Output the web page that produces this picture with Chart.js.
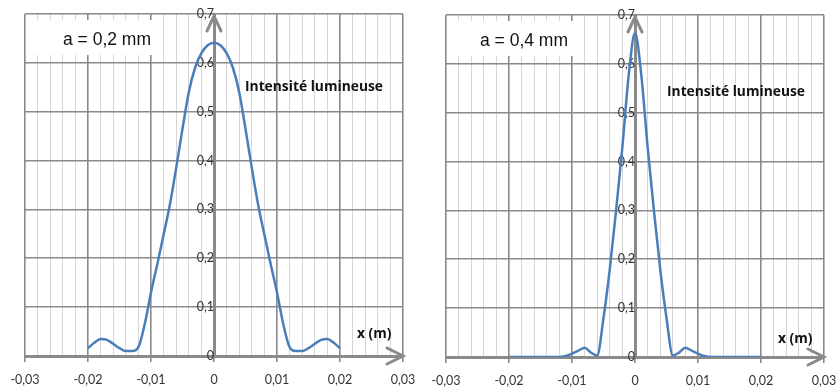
<!DOCTYPE html>
<html lang="fr">
<head>
<meta charset="utf-8">
<script src="https://cdn.jsdelivr.net/npm/chart.js@4.4.1/dist/chart.umd.min.js"></script>
<style>
  html, body { margin: 0; padding: 0; background: #fff; }
  #wrap { position: relative; width: 836px; height: 387px; }
  .panel { position: absolute; top: 0; width: 418px; height: 387px; }
</style>
</head>
<body>
<div id="wrap">
  <div class="panel" style="left:0"><canvas id="chartA" width="418" height="387"></canvas></div>
  <div class="panel" style="left:418px"><canvas id="chartB" width="418" height="387"></canvas></div>
</div>
<script>
// Abscisses (m), pas de 1 mm
const positionsX = [
  -0.020, -0.019, -0.018, -0.017, -0.016, -0.015, -0.014, -0.013, -0.012, -0.011,
  -0.010, -0.009, -0.008, -0.007, -0.006, -0.005, -0.004, -0.003, -0.002, -0.001,
  0,
  0.001, 0.002, 0.003, 0.004, 0.005, 0.006, 0.007, 0.008, 0.009, 0.010,
  0.011, 0.012, 0.013, 0.014, 0.015, 0.016, 0.017, 0.018, 0.019, 0.020
];

// Intensité lumineuse, fente a = 0,2 mm
const intensiteA02 = [
  0.016, 0.027, 0.035, 0.033, 0.025, 0.016, 0.010, 0.010, 0.018, 0.065,
  0.130, 0.188, 0.248, 0.310, 0.385, 0.465, 0.540, 0.590, 0.620, 0.636,
  0.641,
  0.636, 0.620, 0.590, 0.540, 0.465, 0.385, 0.310, 0.248, 0.188, 0.130,
  0.065, 0.018, 0.010, 0.010, 0.016, 0.025, 0.033, 0.035, 0.027, 0.016
];

// Intensité lumineuse, fente a = 0,4 mm
const intensiteA04 = [
  0, 0, 0, 0, 0, 0, 0, 0, 0, 0.002,
  0.007, 0.013, 0.019, 0.009, 0.003, 0.080, 0.180, 0.300, 0.430, 0.577,
  0.663,
  0.577, 0.430, 0.300, 0.180, 0.080, 0.003, 0.009, 0.019, 0.013, 0.007,
  0.002, 0, 0, 0, 0, 0, 0, 0, 0, 0
];

// Graduations principales
const graduationsX = [-0.03, -0.02, -0.01, 0, 0.01, 0.02, 0.03];
const graduationsY = [0, 0.1, 0.2, 0.3, 0.4, 0.5, 0.6, 0.7];

const GRIS_FORT = '#8a8a8a';
const GRIS_CLAIR = '#d6d6d6';
const BLEU = '#4a7ebb';

function estMajeur(v) {
  return graduationsX.some(g => Math.abs(g - v) < 1e-7);
}

function virgule(v, dec) {
  if (Math.abs(v) < 1e-9) return '0';
  return v.toFixed(dec).replace('.', ',');
}

// Cadres de texte, flèches des axes
const decorPlugin = {
  id: 'decor',
  beforeDatasetsDraw(chart, args, opts) {
    const { ctx, chartArea } = chart;
    const x = chart.scales.x;
    const y = chart.scales.y;
    const x0 = x.getPixelForValue(0);
    const y0 = y.getPixelForValue(0);

    ctx.save();
    // cadre blanc "a = ..."
    ctx.fillStyle = '#ffffff';
    ctx.fillRect(chartArea.left + 1, chartArea.top + 6, 127, 35);
    ctx.fillStyle = '#111';
    ctx.font = '17.5px "Liberation Sans", Arial, sans-serif';
    ctx.textBaseline = 'alphabetic';
    ctx.fillText(opts.titre, chartArea.left + 38 + opts.decal, chartArea.top + 31);

    // flèche verticale
    ctx.strokeStyle = GRIS_FORT;
    ctx.lineWidth = 3;
    ctx.lineCap = 'round';
    ctx.lineJoin = 'miter';
    ctx.beginPath();
    ctx.moveTo(x0 - 7, chartArea.top + 17);
    ctx.lineTo(x0, chartArea.top + 2);
    ctx.lineTo(x0 + 7, chartArea.top + 17);
    ctx.stroke();

    // flèche horizontale
    ctx.beginPath();
    ctx.moveTo(chartArea.right - 16, y0 - 8);
    ctx.lineTo(chartArea.right, y0);
    ctx.lineTo(chartArea.right - 16, y0 + 8);
    ctx.stroke();

    // légendes
    ctx.fillStyle = '#111';
    ctx.font = 'bold 13.8px "Open Sans", sans-serif';
    ctx.textBaseline = 'middle';
    ctx.fillText('Intensité lumineuse', chartArea.left + opts.legX, chartArea.top + opts.legY);
    ctx.fillText('x (m)', chartArea.left + 332, chartArea.top + opts.xmY);
    ctx.restore();
  }
};

function creerGraphe(canvasId, valeurs, padding, decor) {
  const ctx = document.getElementById(canvasId).getContext('2d');
  const points = positionsX.map((px, i) => ({ x: px, y: valeurs[i] }));

  return new Chart(ctx, {
    type: 'line',
    data: {
      datasets: [{
        data: points,
        borderColor: BLEU,
        borderWidth: 2.5,
        pointRadius: 0,
        fill: false,
        cubicInterpolationMode: 'monotone'
      }]
    },
    options: {
      responsive: false,
      animation: false,
      layout: { padding: padding },
      plugins: {
        legend: { display: false },
        tooltip: { enabled: false },
        decor: decor
      },
      scales: {
        x: {
          type: 'linear',
          position: 'bottom',
          min: -0.03,
          max: 0.03,
          afterFit: (scale) => {
            scale.height = 387 - padding.top - 342 - padding.bottom;
            scale.paddingLeft = 0;
            scale.paddingRight = 0;
          },
          ticks: {
            stepSize: 0.002,
            autoSkip: false,
            maxRotation: 0,
            padding: 10,
            color: '#333',
            font: { family: 'Lato, "Open Sans", sans-serif', size: 12.5 },
            callback: (v) => estMajeur(v) ? virgule(v, 2) : ''
          },
          grid: {
            color: (c) => estMajeur(c.tick.value) ? GRIS_FORT : GRIS_CLAIR,
            lineWidth: (c) => estMajeur(c.tick.value) ? 1.6 : 1,
            tickColor: (c) => estMajeur(c.tick.value) ? GRIS_FORT : 'rgba(0,0,0,0)',
            tickLength: 6
          },
          border: { color: GRIS_FORT, width: 3 }
        },
        y: {
          type: 'linear',
          position: { x: 0 },
          min: 0,
          max: 0.7,
          afterFit: (scale) => {
            scale.paddingTop = 0;
            scale.paddingBottom = 0;
          },
          ticks: {
            stepSize: 0.1,
            padding: 7,
            color: '#333',
            font: { family: 'Lato, "Open Sans", sans-serif', size: 12.5 },
            callback: (v) => virgule(v, 1)
          },
          grid: {
            color: GRIS_FORT,
            lineWidth: 1.6,
            tickLength: 4
          },
          border: { color: GRIS_FORT, width: 3 }
        }
      }
    },
    plugins: [decorPlugin]
  });
}

creerGraphe('chartA', intensiteA02,
  { left: 25, right: 15, top: 14, bottom: 0 },
  { titre: 'a = 0,2 mm', decal: 0, legX: 220, legY: 73, xmY: 320 });

creerGraphe('chartB', intensiteA04,
  { left: 28, right: 12, top: 15, bottom: 0 },
  { titre: 'a = 0,4 mm', decal: -4, legX: 221, legY: 77, xmY: 324 });
</script>
</body>
</html>
